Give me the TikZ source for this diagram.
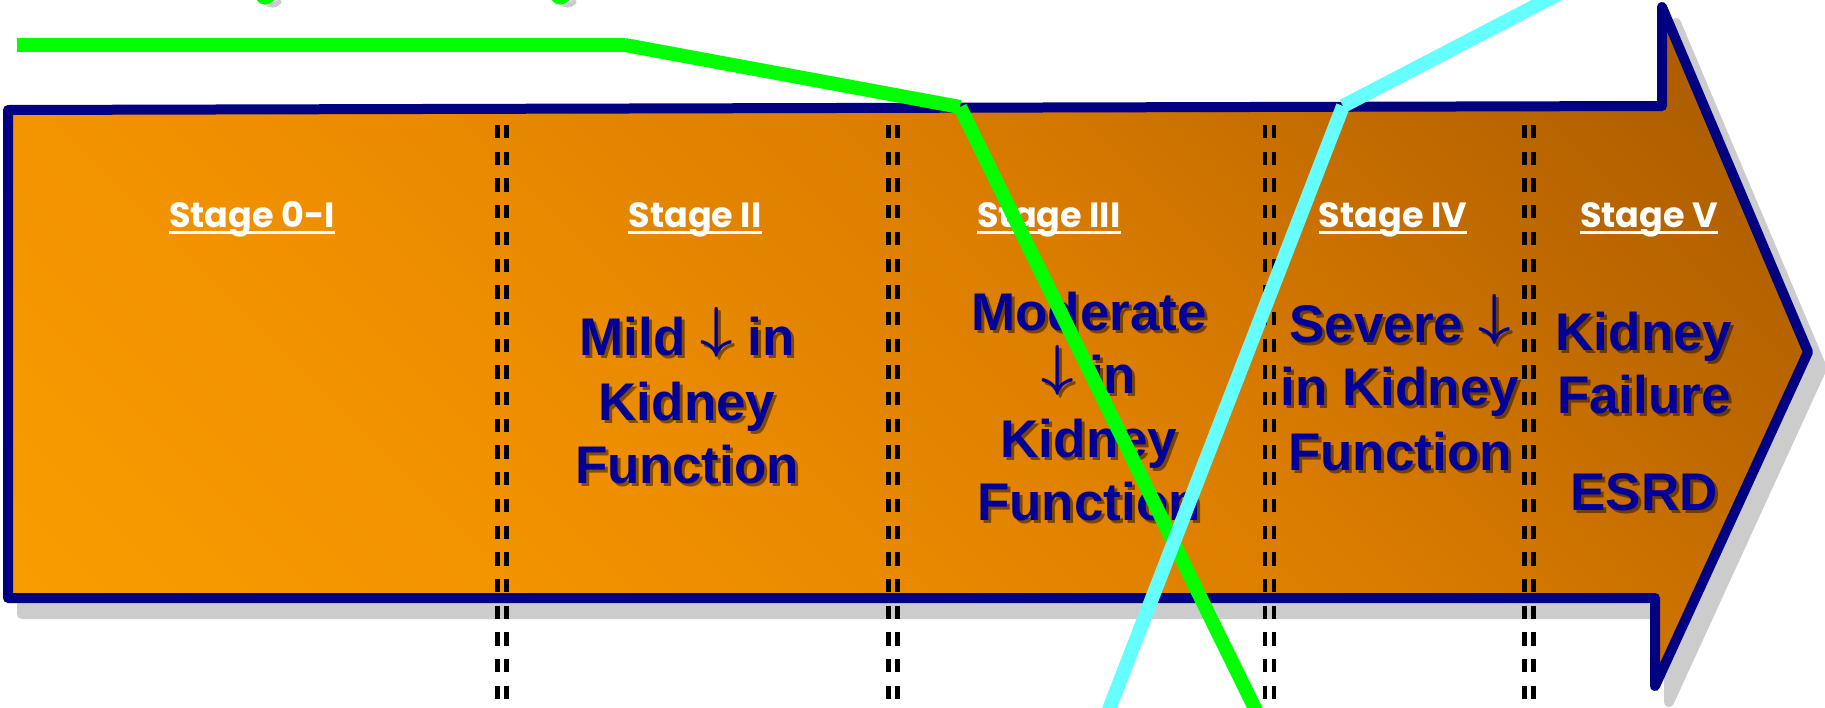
\documentclass[tikz,border=0pt]{standalone}
\usepackage{graphicx}
\usepackage{fontspec}
\setmainfont{Liberation Sans}
\newfontfamily\stagefont{Poppins}

\definecolor{navyline}{RGB}{0,0,128}
\definecolor{textblue}{RGB}{0,0,153}
\definecolor{greenline}{RGB}{0,255,0}
\definecolor{cyanline}{RGB}{102,255,255}
\definecolor{shadowgray}{RGB}{204,204,204}
\definecolor{oA}{RGB}{250,158,0}
\definecolor{oB}{RGB}{240,144,0}
\definecolor{oC}{RGB}{218,124,0}
\definecolor{oD}{RGB}{190,104,0}
\definecolor{oE}{RGB}{165,88,0}

% diagonal orange-to-brown fill of the big arrow
\pgfdeclarehorizontalshading{bodyshade}{100bp}{color(0bp)=(oA); color(14.6bp)=(oA); color(35.8bp)=(oB); color(57bp)=(oC); color(71.2bp)=(oD); color(85.4bp)=(oE); color(100bp)=(oE)}

% outline of the stage arrow
\newcommand\arrowoutline{(8,110) -- (1662,106) -- (1662,7) -- (1808,352) -- (1655,686) -- (1655,598) -- (8,598) -- cycle}

% tall thin "decrease" arrow used inside the descriptions
\newcommand\darr{\raisebox{9pt}{\resizebox*{!}{50pt}{\boldmath$\downarrow$}}}

\tikzset{
  stagelbl/.style={text=white, font=\stagefont\bfseries\fontsize{35}{42}\selectfont, inner sep=0pt, anchor=base},
  bluetxt/.style={text=textblue, font=\bfseries\fontsize{53}{64}\selectfont, inner sep=0pt, anchor=base},
  blueshadow/.style={bluetxt, text=black, text opacity=0.45},
  divbar/.style={black, line width=4.5pt, dash pattern=on 13.3pt off 13.4pt},
  trend/.style={line width=14pt, line cap=butt},
}

\newcommand\stagelabel[4]{%
  \node[stagelbl] (#1) at (#2,#3) {#4};
  \draw[white, line width=3pt] ([yshift=-5pt]#1.base west) -- ([yshift=-5pt]#1.base east);}
\newcommand\bluetext[4]{%
  \node[blueshadow] (#1s) at (#2+3,#3+3) {#4};
  \node[bluetxt] (#1) at (#2,#3) {#4};}

\begin{document}
\begin{tikzpicture}[x=1pt,y=-1pt]
\useasboundingbox (0,0) rectangle (1825,707);
\begin{scope}
\clip (0,0) rectangle (1825,707);

% drop shadow of the arrow
\begin{scope}[shift={(14,16)}]
  \filldraw[shadowgray, line width=10pt, line join=round] \arrowoutline;
\end{scope}

% the arrow itself
\shadedraw[shading=bodyshade, shading angle=45, draw=navyline, line width=10pt, line join=round] \arrowoutline;

% stage dividers: pairs of dashed bars
\foreach \dx in {502, 893, 1269.5, 1529} {
  \draw[divbar] (\dx-4.5,125) -- (\dx-4.5,712);
  \draw[divbar] (\dx+4.5,125) -- (\dx+4.5,712);
}

% stage headings
\stagelabel{s1}{252}{227}{Stage 0-I}
\stagelabel{s2}{695}{227}{Stage II}
\stagelabel{s3}{1049}{227}{Stage III}
\stagelabel{s4}{1393}{227}{Stage IV}
\stagelabel{s5}{1649}{227}{Stage V}

% stage descriptions
\bluetext{b2a}{687}{355}{Mild \darr{} in}
\bluetext{b2b}{687}{420}{Kidney}
\bluetext{b2c}{687}{483}{Function}

\bluetext{b3a}{1089}{330}{Moderate}
\bluetext{b3b}{1089}{393}{\darr{} in}
\bluetext{b3c}{1089}{457}{Kidney}
\bluetext{b3d}{1089}{520}{Function}

\bluetext{b4a}{1400}{342}{Severe \darr}
\bluetext{b4b}{1400}{405}{in Kidney}
\bluetext{b4c}{1400}{470}{Function}

\bluetext{b5a}{1644}{350}{Kidney}
\bluetext{b5b}{1644}{413}{Failure}
\bluetext{b5c}{1644}{510}{ESRD}

% falling trend (green)
\coordinate (g0) at (17,45);
\coordinate (g1) at (625,45);
\coordinate (g2) at (960,107);
\coordinate (g3) at (1268,735);
\draw[trend, greenline] (g0) -- (g1);
\draw[trend, greenline] (g1) -- (g2);
\draw[trend, greenline] (g2) -- (g3);

% rising trend (cyan)
\coordinate (c0) at (1566,-10);
\coordinate (c1) at (1343,106);
\coordinate (c2) at (1099,735);
\draw[trend, cyanline] (c0) -- (c1);
\draw[trend, cyanline] (c1) -- (c2);

% tails of lettering along the top edge
\foreach \ox in {0, 295} {
  \draw[shadowgray, line width=5pt, line cap=round] (266+\ox,2) .. controls (270+\ox,6) and (275+\ox,6) .. (279+\ox,2);
  \draw[greenline, line width=5pt, line cap=round] (259+\ox,-1) .. controls (262+\ox,3) and (267+\ox,3) .. (272+\ox,-1);
}
\end{scope}
\end{tikzpicture}
\end{document}
